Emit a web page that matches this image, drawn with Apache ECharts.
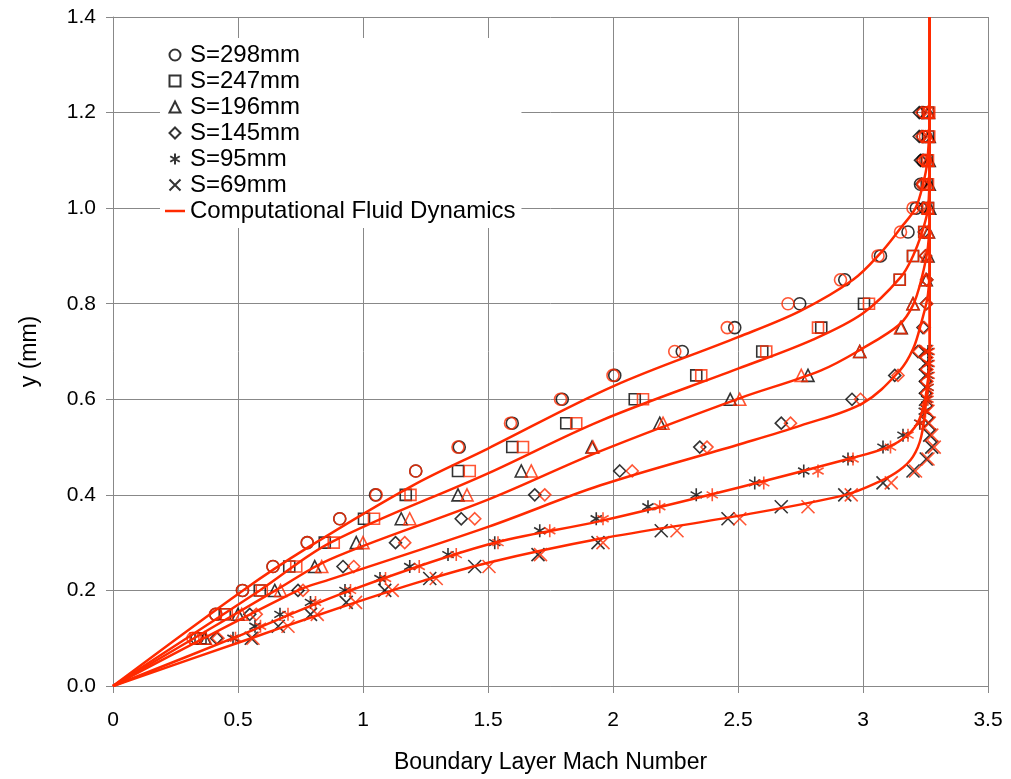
<!DOCTYPE html>
<html>
<head>
<meta charset="utf-8">
<script src="https://cdn.jsdelivr.net/npm/echarts@6/dist/echarts.min.js"></script>
<style>
html,body{margin:0;padding:0;background:#fff;}
#chart{width:1011px;height:779px;}
</style>
</head>
<body>
<div id="chart"></div>
<script>
// ---------- data ----------
const seriesNames = ['S=298mm', 'S=247mm', 'S=196mm', 'S=145mm', 'S=95mm', 'S=69mm'];
const cfdName = 'Computational Fluid Dynamics';

// heights (mm) of measurement stations
const yCoarse = [0.10, 0.15, 0.20, 0.25, 0.30, 0.35, 0.40, 0.45, 0.50, 0.55, 0.60, 0.65,
                 0.70, 0.75, 0.80, 0.85, 0.90, 0.95, 1.00, 1.05, 1.10, 1.15, 1.20];
const yFine = [0.100, 0.125, 0.150, 0.175, 0.200, 0.225, 0.250, 0.275, 0.300, 0.325, 0.350, 0.375,
               0.400, 0.425, 0.450, 0.475, 0.500, 0.525, 0.550, 0.575, 0.600, 0.625, 0.650, 0.675, 0.700];

// experimental Mach numbers (black markers)
const exp298 = [0.336, 0.411, 0.518, 0.64, 0.777, 0.907, 1.05, 1.211, 1.385, 1.597, 1.797, 2.007,
                2.277, 2.487, 2.747, 2.927, 3.07, 3.18, 3.213, 3.23, 3.24, 3.24, 3.24];
const exp247 = [0.35, 0.447, 0.587, 0.705, 0.847, 1.004, 1.171, 1.38, 1.597, 1.813, 2.087, 2.333,
                2.597, 2.833, 3.004, 3.147, 3.20, 3.245, 3.26, 3.255, 3.255, 3.26, 3.26];
const exp196 = [0.367, 0.50, 0.647, 0.807, 0.973, 1.153, 1.38, 1.633, 1.916, 2.187, 2.469, 2.78,
                2.987, 3.153, 3.20, 3.253, 3.26, 3.262, 3.267, 3.265, 3.265, 3.265, 3.262];
const exp145 = [0.414, 0.547, 0.74, 0.92, 1.13, 1.393, 1.687, 2.027, 2.347, 2.673, 2.956, 3.127,
                3.22, 3.24, 3.253, 3.255, 3.25, 3.245, 3.24, 3.235, 3.23, 3.225, 3.225];
const exp95 = [0.48, 0.568, 0.668, 0.79, 0.928, 1.068, 1.187, 1.34, 1.527, 1.707, 1.933, 2.14,
               2.333, 2.567, 2.763, 2.94, 3.08, 3.16, 3.227, 3.245, 3.255, 3.26, 3.26, 3.26, 3.26];
const exp69 = [0.553, 0.661, 0.79, 0.933, 1.087, 1.267, 1.447, 1.70, 1.94, 2.193, 2.46, 2.673,
               2.927, 3.08, 3.20, 3.253, 3.275, 3.267, 3.26, 3.255, 3.25, 3.25, 3.25, 3.25, 3.25];

// CFD values at the same stations (red markers)
const cfd298 = [0.32, 0.41, 0.518, 0.64, 0.777, 0.907, 1.053, 1.211, 1.38, 1.59, 1.79, 2.0,
                2.247, 2.457, 2.70, 2.91, 3.06, 3.15, 3.20, 3.24, 3.25, 3.25, 3.26];
const cfd247 = [0.33, 0.455, 0.595, 0.733, 0.883, 1.044, 1.19, 1.427, 1.64, 1.853, 2.12, 2.353,
                2.613, 2.82, 3.024, 3.147, 3.20, 3.245, 3.26, 3.26, 3.26, 3.265, 3.265];
const cfd196 = [0.37, 0.515, 0.67, 0.835, 1.0, 1.187, 1.416, 1.673, 1.92, 2.2, 2.507, 2.753,
                2.987, 3.15, 3.20, 3.25, 3.255, 3.26, 3.26, 3.26, 3.26, 3.26, 3.26];
const cfd145 = [0.42, 0.573, 0.76, 0.963, 1.167, 1.447, 1.727, 2.077, 2.376, 2.71, 2.99, 3.14,
                3.225, 3.245, 3.255, 3.255, 3.25, 3.25, 3.245, 3.24, 3.24, 3.235, 3.235];
const cfd95 = [0.49, 0.59, 0.70, 0.81, 0.95, 1.09, 1.225, 1.373, 1.54, 1.747, 1.96, 2.187,
               2.397, 2.603, 2.82, 2.96, 3.11, 3.18, 3.23, 3.25, 3.26, 3.26, 3.265, 3.265, 3.265];
const cfd69 = [0.56, 0.70, 0.817, 0.97, 1.117, 1.293, 1.504, 1.71, 1.96, 2.256, 2.507, 2.78,
               2.953, 3.113, 3.21, 3.26, 3.285, 3.275, 3.265, 3.26, 3.255, 3.255, 3.255, 3.255, 3.255];

// CFD profiles [Mach, y]
const profile298 = [[0,0],[0.52,0.2],[0.78,0.29],[1.2,0.42],[1.5,0.497],[2.0,0.627],[2.5,0.73],
                    [2.75,0.785],[2.96,0.85],[3.07,0.906],[3.15,0.958],[3.21,1.0],[3.24,1.05],
                    [3.258,1.1],[3.267,1.2],[3.267,1.4]];
const profile247 = [[0,0],[0.587,0.2],[0.87,0.30],[1.5,0.445],[1.95,0.555],[2.5,0.664],
                    [2.8,0.725],[3.0,0.78],[3.15,0.855],[3.2,0.9],[3.235,0.948],[3.26,1.0],[3.267,1.1],[3.267,1.4]];
const profile196 = [[0,0],[0.65,0.2],[0.868,0.265],[1.5,0.39],[1.947,0.491],[2.5,0.601],
                    [2.83,0.66],[3.0,0.707],[3.147,0.757],[3.2,0.797],[3.233,0.85],[3.26,0.92],[3.267,1.0],[3.267,1.4]];
const profile145 = [[0,0],[0.74,0.2],[0.868,0.223],[1.5,0.333],[1.95,0.42],[2.5,0.505],[2.75,0.545],
                    [3.0,0.592],[3.147,0.66],[3.2,0.705],[3.233,0.76],[3.26,0.82],[3.267,0.9],[3.267,1.4]];
const profile95 = [[0,0],[0.48,0.1],[0.95,0.2],[1.5,0.296],[1.947,0.345],[2.5,0.415],
                   [2.94,0.475],[3.1,0.5],[3.18,0.526],[3.227,0.56],[3.255,0.62],[3.267,0.7],[3.267,1.4]];
const profile69 = [[0,0],[0.553,0.1],[0.8,0.145],[1.087,0.195],[1.24,0.22],[1.5,0.258],[1.947,0.308],
                   [2.5,0.356],[2.93,0.40],[3.067,0.428],[3.147,0.452],[3.2,0.48],[3.233,0.522],
                   [3.253,0.6],[3.267,0.7],[3.267,1.4]];

// ---------- build ----------
const FONT = "'Liberation Sans', Arial, sans-serif";
const RED = '#ff2a00';
const symRect = 'path://M0,0L10,0L10,10L0,10Z';
const symTri = 'path://M5,0L10,10L0,10Z';
const symDia = 'path://M5,0L10,5L5,10L0,5Z';
const symAst = 'path://M5,0L5,10M0.67,2.5L9.33,7.5M0.67,7.5L9.33,2.5';
const symX = 'path://M0,0L10,10M10,0L0,10';
const symbols = ['circle', symRect, symTri, symDia, symAst, symX];
const sizes = [12, 11, 12, 12, 13, 13];
const expData = [exp298, exp247, exp196, exp145, exp95, exp69];
const cfdData = [cfd298, cfd247, cfd196, cfd145, cfd95, cfd69];
const yData = [yCoarse, yCoarse, yCoarse, yCoarse, yFine, yFine];
const profiles = [profile298, profile247, profile196, profile145, profile95, profile69];

function pairs(xs, ys) { return xs.map((x, i) => [x, ys[i]]); }

const series = [];
for (let k = 0; k < 6; k++) {
  series.push({
    name: seriesNames[k], type: 'scatter', symbol: symbols[k], symbolSize: sizes[k],
    symbolKeepAspect: true,
    data: pairs(expData[k], yData[k]), z: 3,
    itemStyle: { color: 'rgba(0,0,0,0)', borderColor: '#000', borderWidth: 1.6 },
    emphasis: { disabled: true }
  });
}
for (let k = 0; k < 6; k++) {
  series.push({
    name: 'cfd-' + seriesNames[k], type: 'scatter', symbol: symbols[k], symbolSize: sizes[k],
    symbolKeepAspect: true,
    data: pairs(cfdData[k], yData[k]), z: 4,
    itemStyle: { color: 'rgba(0,0,0,0)', borderColor: RED, borderWidth: 1.6 },
    emphasis: { disabled: true }
  });
}
for (let k = 0; k < 6; k++) {
  series.push({
    name: cfdName, type: 'line', data: profiles[k], showSymbol: false, symbol: 'none',
    smooth: 0.35, z: 5,
    lineStyle: { color: RED, width: 2.5 }, itemStyle: { color: RED },
    emphasis: { disabled: true }
  });
}

const legendData = seriesNames.map(n => ({ name: n }));
legendData.push({ name: cfdName, icon: 'path://M0,0L20,0L20,2.5L0,2.5Z',
                  itemStyle: { color: RED, borderWidth: 0 } });

const chart = echarts.init(document.getElementById('chart'), null, { renderer: 'canvas' });
chart.setOption({
  animation: false,
  backgroundColor: '#fff',
  grid: { left: 113, right: 23, top: 17, bottom: 92, containLabel: false },
  legend: {
    data: legendData,
    orient: 'vertical', left: 160, top: 38,
    backgroundColor: '#fff', padding: [5, 6, 5, 5],
    itemWidth: 20, itemHeight: 11, itemGap: 2, symbolKeepAspect: true,
    textStyle: { fontFamily: FONT, fontSize: 24, color: '#000', lineHeight: 24 },
    selectedMode: false
  },
  xAxis: {
    type: 'value', min: 0, max: 3.5, interval: 0.5,
    name: 'Boundary Layer Mach Number', nameLocation: 'middle', nameGap: 65,
    nameTextStyle: { fontFamily: FONT, fontSize: 23, color: '#000' },
    axisLine: { show: true, onZero: false, lineStyle: { color: '#888', width: 1 } },
    axisTick: { show: true, length: 7, lineStyle: { color: '#888' } },
    axisLabel: { fontFamily: FONT, fontSize: 21, color: '#000', margin: 24 },
    splitLine: { show: true, lineStyle: { color: '#888', width: 1 } }
  },
  yAxis: {
    type: 'value', min: 0, max: 1.4, interval: 0.2,
    name: 'y (mm)', nameLocation: 'middle', nameGap: 72, nameRotate: 90,
    nameTextStyle: { fontFamily: FONT, fontSize: 23, color: '#000' },
    axisLine: { show: true, onZero: false, lineStyle: { color: '#888', width: 1 } },
    axisTick: { show: true, length: 7, lineStyle: { color: '#888' } },
    axisLabel: { fontFamily: FONT, fontSize: 21, color: '#000', margin: 17,
                 formatter: v => v.toFixed(1) },
    splitLine: { show: true, lineStyle: { color: '#888', width: 1 } }
  },
  series: series
});
</script>
</body>
</html>
